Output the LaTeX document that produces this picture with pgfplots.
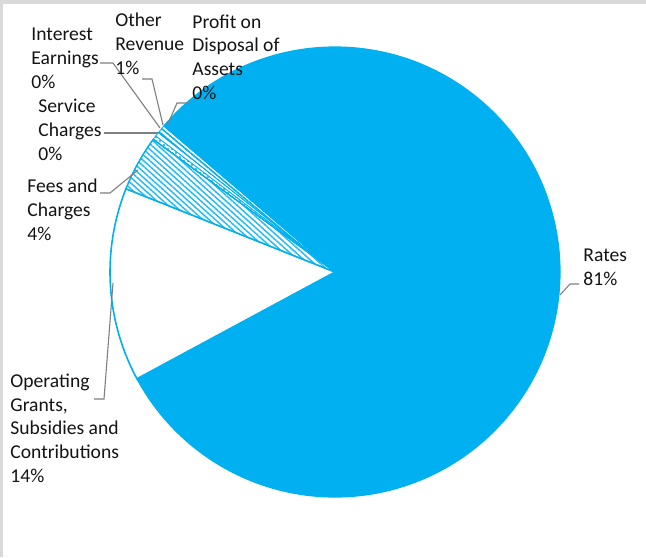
\documentclass[border=0pt]{standalone}
\usepackage{pgfplots}
\pgfplotsset{compat=1.18}
\usepackage{pgfplotstable}
\usetikzlibrary{patterns,patterns.meta}
\usepackage{fontspec}
\setmainfont{Carlito}
\definecolor{xlblue}{HTML}{00B0F0}
\definecolor{leader}{HTML}{7F7F7F}
\definecolor{frame}{HTML}{D9D9D9}

\pgfplotstableread[col sep=comma]{
name,value
Rates,80.8
Operating Grants Subsidies and Contributions,13.9
Fees and Charges,4.0
Service Charges,0.3
Interest Earnings,0.3
Other Revenue,0.6
Profit on Disposal of Assets,0.1
}\revenue

\tikzset{lbl/.style={anchor=base west, inner sep=0pt, align=left, text=black!92,
    font=\fontsize{9.8}{11.8}\selectfont}}

\newcommand{\slice}[2]{%
  \draw[#2] (axis cs:335,272) -- ++(\csname sa#1\endcsname:112.5pt)
    arc[start angle=\csname sa#1\endcsname, end angle=\csname ea#1\endcsname, radius=112.5pt] -- cycle;}

\begin{document}
\begin{tikzpicture}
\xdef\cur{139.2}
\pgfplotsforeachungrouped \i in {0,...,6}{%
  \pgfplotstablegetelem{\i}{value}\of\revenue
  \pgfmathsetmacro{\nxt}{\cur-3.6*\pgfplotsretval}%
  \expandafter\xdef\csname sa\i\endcsname{\cur}%
  \expandafter\xdef\csname ea\i\endcsname{\nxt}%
  \xdef\cur{\nxt}%
}
\begin{axis}[hide axis, scale only axis, width=323pt, height=278.5pt,
  xmin=0, xmax=646, ymin=0, ymax=557, y dir=reverse, clip=false]
\fill[white] (axis cs:0,0) rectangle (axis cs:646,557);
\fill[frame] (axis cs:0,0) rectangle (axis cs:646,4);
\fill[frame] (axis cs:0,0) rectangle (axis cs:3,557);

\slice{0}{fill=xlblue, draw=xlblue, line width=0.6pt}
\slice{1}{fill=white, draw=xlblue, line width=0.8pt}
\slice{2}{fill=white, draw=xlblue, line width=0.6pt}
\slice{2}{pattern={Lines[angle=-42,distance=2.1pt,line width=0.75pt]}, pattern color=xlblue!85, draw=xlblue, line width=0.6pt}
\slice{3}{pattern={Dots[distance=2pt,radius=0.6pt]}, pattern color=xlblue, draw=xlblue, line width=0.4pt}
\slice{4}{fill=white, draw=xlblue, line width=0.4pt}
\slice{5}{pattern={Lines[angle=-40,distance=2pt,line width=0.8pt]}, pattern color=xlblue, draw=xlblue, line width=0.4pt}
\slice{6}{fill=xlblue, draw=xlblue, line width=0.4pt}

% leader lines
\draw[leader, line width=0.55pt] (axis cs:560,295) -- (axis cs:570,284) -- (axis cs:579,284);
\draw[leader, line width=0.55pt] (axis cs:113,283) -- (axis cs:104,399) -- (axis cs:94,399);
\draw[leader, line width=0.55pt] (axis cs:138,170) -- (axis cs:110,193) -- (axis cs:100,193);
\draw[leader, line width=0.55pt] (axis cs:158,133) -- (axis cs:104,133);
\draw[leader, line width=0.55pt] (axis cs:160,128) -- (axis cs:113,63) -- (axis cs:100,63);
\draw[leader, line width=0.55pt] (axis cs:163,125) -- (axis cs:152,79) -- (axis cs:142,79);
\draw[leader, line width=0.55pt] (axis cs:167,126) -- (axis cs:177,103) -- (axis cs:190,103);

% labels (anchored at the baseline of the last line)
\node[lbl] at (axis cs:583,285) {Rates\\81\%};
\node[lbl] at (axis cs:10,482) {Operating\\Grants,\\Subsidies and\\Contributions\\14\%};
\node[lbl] at (axis cs:27,240) {Fees and\\Charges\\4\%};
\node[lbl] at (axis cs:38,160) {Service\\Charges\\0\%};
\node[lbl] at (axis cs:31,88) {Interest\\Earnings\\0\%};
\node[lbl] at (axis cs:115,74) {Other\\Revenue\\1\%};
\node[lbl] at (axis cs:192,99) {Profit on\\Disposal of\\Assets\\0\%};
\end{axis}
\end{tikzpicture}
\end{document}
